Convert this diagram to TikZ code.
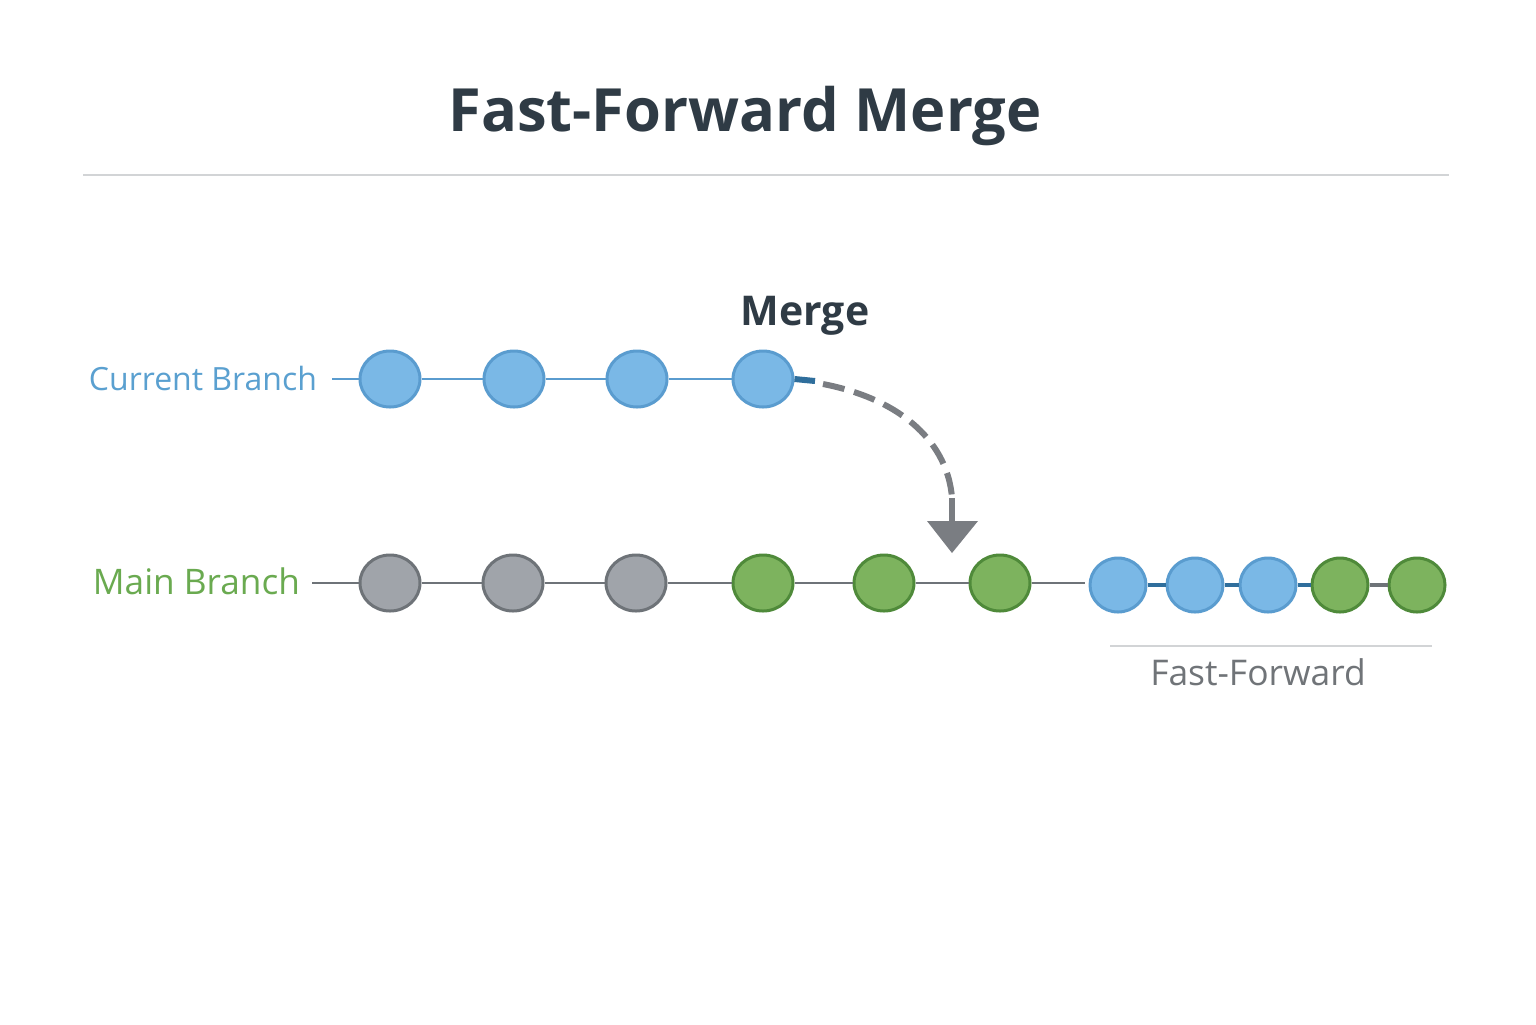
\documentclass[tikz,border=0pt]{standalone}
\usepackage{fontspec}
\setmainfont{Open Sans}
\definecolor{titlec}{HTML}{2F3B45}
\definecolor{rulec}{HTML}{D2D4D6}
\definecolor{bluef}{HTML}{7AB8E6}
\definecolor{blued}{HTML}{5A9CCF}
\definecolor{bluetxt}{HTML}{5AA0D0}
\definecolor{darkblue}{HTML}{2F6E9C}
\definecolor{grayf}{HTML}{A0A4AA}
\definecolor{grayd}{HTML}{6E7378}
\definecolor{greenf}{HTML}{7DB35E}
\definecolor{greend}{HTML}{4F8A3A}
\definecolor{greentxt}{HTML}{6AAA50}
\definecolor{arrowc}{HTML}{7A7D82}
\definecolor{fftxt}{HTML}{707478}
\tikzset{
  bc/.style={ellipse, draw=blued, fill=bluef, line width=1.5pt, minimum width=30pt, minimum height=28pt, inner sep=0pt},
  gc/.style={ellipse, draw=grayd, fill=grayf, line width=1.5pt, minimum width=30pt, minimum height=28pt, inner sep=0pt},
  grc/.style={ellipse, draw=greend, fill=greenf, line width=1.5pt, minimum width=30pt, minimum height=28pt, inner sep=0pt},
  bcs/.style={bc, minimum width=28pt, minimum height=27pt},
  grcs/.style={grc, minimum width=28pt, minimum height=27pt},
  bline/.style={draw=blued, line width=1.3pt},
  gline/.style={draw=grayd, line width=1.3pt},
  ffline/.style={draw=darkblue, line width=2.2pt},
}
\usetikzlibrary{shapes.geometric}
\begin{document}
\begin{tikzpicture}[x=0.5pt,y=-0.5pt]
\useasboundingbox[fill=white] (0,0) rectangle (1536,1024);
% title
\node[font=\fontsize{29.8}{36}\selectfont\bfseries, text=titlec] (title) at (745,116) {Fast-Forward Merge};
\coordinate (r1) at (83,175); \coordinate (r2) at (1449,175);
\draw[rulec, line width=0.6pt] (r1) -- (r2);
% current branch
\node[font=\fontsize{16.0}{20}\selectfont, text=bluetxt, anchor=east] (cbl) at (324,378) {Current Branch};
\coordinate (cs) at (332,379);
\node[bc] (c1) at (390,379) {};
\node[bc] (c2) at (514,379) {};
\node[bc] (c3) at (637,379) {};
\node[bc] (c4) at (763,379) {};
\draw[bline] (cs) -- (c1) (c1) -- (c2) (c2) -- (c3) (c3) -- (c4);
\coordinate (stubend) at (815,381);
\draw[darkblue, line width=3pt] (c4.east) -- (stubend);
\node[font=\fontsize{20.5}{24}\selectfont\bfseries, text=titlec] (mergel) at (805,316) {Merge};
% merge arrow
\coordinate (ds) at (823,384);
\coordinate (de) at (952,498);
\coordinate (tl) at (927,521);
\coordinate (tr) at (978,521);
\coordinate (tip) at (952,553);
\draw[arrowc, line width=3pt, dash pattern=on 11pt off 5pt] (ds) .. controls (905,400) and (948,445) .. (de);
\draw[arrowc, line width=3pt] (de) -- (952,522);
\fill[arrowc] (tl) -- (tr) -- (tip) -- cycle;
% main branch
\node[font=\fontsize{17.6}{21}\selectfont, text=greentxt, anchor=east] (mbl) at (307,581) {Main Branch};
\coordinate (ms) at (312,583);
\node[gc] (m1) at (390,583) {};
\node[gc] (m2) at (513,583) {};
\node[gc] (m3) at (636,583) {};
\node[grc] (m4) at (763,583) {};
\node[grc] (m5) at (884,583) {};
\node[grc] (m6) at (1000,583) {};
\coordinate (me) at (1085,583);
\draw[gline] (ms) -- (m1) (m1) -- (m2) (m2) -- (m3) (m3) -- (m4) (m4) -- (m5) (m5) -- (m6) (m6) -- (me);
% fast-forward
\node[bcs] (f1) at (1118,585) {};
\node[bcs] (f2) at (1195,585) {};
\node[bcs] (f3) at (1268,585) {};
\node[grcs] (f4) at (1340,585) {};
\node[grcs] (f5) at (1417,585) {};
\draw[ffline] (f1) -- (f2) (f2) -- (f3) (f3) -- (f4);
\draw[draw=grayd, line width=2.2pt] (f4) -- (f5);
\coordinate (fr1) at (1110,646); \coordinate (fr2) at (1432,646);
\draw[rulec, line width=0.8pt] (fr1) -- (fr2);
\node[font=\fontsize{17.7}{21}\selectfont, text=fftxt] (ffl) at (1258,672) {Fast-Forward};
\end{tikzpicture}
\end{document}
